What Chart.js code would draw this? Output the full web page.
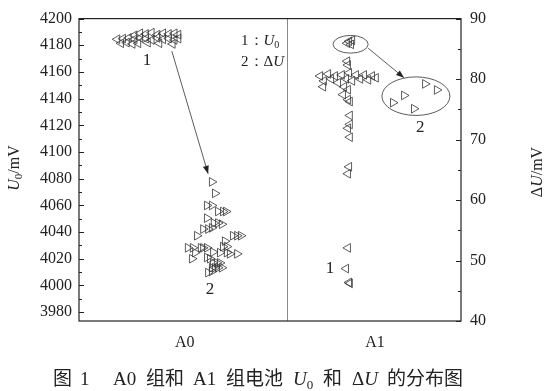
<!DOCTYPE html>
<html><head><meta charset="utf-8">
<script src="https://cdn.jsdelivr.net/npm/chart.js@4.4.1/dist/chart.umd.min.js"></script>
<style>html,body{margin:0;padding:0;background:#fff;}#wrap{width:546px;height:391px;}</style>
</head><body><div id="wrap"><canvas id="c" width="546" height="391"></canvas></div>
<script>
// ---- data ----
const groups = ['A0', 'A1'];
const groupCenters = [27.7, 77.5];
const groupBoundary = 54.5;
const leftTicks = [3980, 4000, 4020, 4040, 4060, 4080, 4100, 4120, 4140, 4160, 4180, 4200];
const rightTicks = [40, 50, 60, 70, 80, 90];

// A0 group, U0 (mV, left axis)
const a0U0X = [14.5, 16, 17.5, 19, 20.5, 22, 23.5, 25, 26,
  10, 11.5, 13, 14.5, 16, 17.5, 19, 20.5, 22, 23.5, 25, 26,
  11, 12.5, 14, 15.5, 18, 21, 24.5];
const a0U0 = [4187.5, 4189, 4188.5, 4189.5, 4188, 4189, 4188.5, 4189, 4188,
  4184.5, 4185, 4185.5, 4184.5, 4185.5, 4185, 4184, 4185.5, 4184.5, 4185, 4184, 4185,
  4181.5, 4182, 4181, 4181.5, 4182, 4181.5, 4181];

// A0 group, dU (mV, right axis)
const a0dUX = [34.8, 35.6, 33.5, 34.8, 36.4, 37.7, 38.5, 33.5, 35.3, 36.4, 37.4, 32.5, 33.8, 34.8,
  30.9, 40.3, 41.4, 42.4, 38.2, 28.5, 29.8, 31.9, 32.5, 33.5, 37.7, 38.7, 30.4, 35.1, 36.9, 38.7,
  39.5, 41.4, 29.6, 33.5, 34.3, 35.1, 36.1, 36.9, 34.8, 35.6, 36.4, 37.4, 33.8, 34.8];
const a0dU = [63.0, 61.1, 59.1, 59.1, 58.1, 58.1, 58.1, 57.0, 56.2, 56.2, 56.0, 55.2, 55.2, 55.4,
  54.1, 54.1, 54.1, 54.1, 53.2, 52.1, 52.1, 52.1, 52.1, 52.1, 52.3, 52.3, 51.3, 51.4, 51.3, 51.3,
  51.1, 51.1, 50.3, 50.5, 50.3, 49.6, 49.6, 49.6, 48.8, 48.8, 48.8, 48.8, 48.0, 48.2];

// A1 group, U0 (mV, left axis)
const a1U0X = [70.2, 70.7, 71.2, 71.5, 70.2, 70.4,
  63.1, 64.1, 65.2, 66.0, 67.0, 67.8, 68.8, 69.9, 70.7, 71.5, 72.5, 73.6, 74.6, 75.7, 76.7, 77.7, 63.9, 69.4,
  70.4, 69.1, 70.4, 70.9, 70.9, 70.9, 70.4, 70.9, 70.7, 70.4, 70.4, 69.9, 70.7, 70.9];
const a1U0 = [4181.5, 4183, 4180.7, 4183.7, 4168.1, 4165.2,
  4157.0, 4153.3, 4158.5, 4154.8, 4157.0, 4151.9, 4157.8, 4154.8, 4159.3, 4153.3, 4157.8, 4154.8, 4157.8, 4154.1, 4157.0, 4155.6, 4148.9, 4148.9,
  4146.7, 4143.0, 4139.3, 4137.8, 4127.4, 4120.7, 4117.8, 4111.1, 4088.9, 4083.7, 4028.1, 4012.6, 4002.2, 4001.5];

// A1 group, dU (mV, right axis)
const a1dUX = [90.6, 93.7, 85.1, 82.2, 87.7];
const a1dU = [79.2, 78.2, 77.3, 76.1, 75.1];

const pts = (xs, ys) => xs.map((x, i) => ({ x: x, y: ys[i] }));

const SERIF = '"Liberation Serif", "Times New Roman", serif';
const CJK = '"Noto Sans CJK SC", sans-serif';
const INK = '#222';

function drawPieces(ctx, pieces, x, y) {
  let cx = x;
  for (const p of pieces) {
    ctx.font = p[0];
    ctx.fillText(p[1], cx, y + (p[2] || 0));
    cx += ctx.measureText(p[1]).width;
  }
  return cx - x;
}
function piecesWidth(ctx, pieces) {
  let w = 0;
  for (const p of pieces) { ctx.font = p[0]; w += ctx.measureText(p[1]).width; }
  return w;
}
function arrow(ctx, x1, y1, x2, y2) {
  ctx.beginPath(); ctx.moveTo(x1, y1); ctx.lineTo(x2, y2); ctx.stroke();
  const a = Math.atan2(y2 - y1, x2 - x1), L = 8, W = 3;
  ctx.beginPath();
  ctx.moveTo(x2, y2);
  ctx.lineTo(x2 - L * Math.cos(a) + W * Math.sin(a), y2 - L * Math.sin(a) - W * Math.cos(a));
  ctx.lineTo(x2 - L * Math.cos(a) - W * Math.sin(a), y2 - L * Math.sin(a) + W * Math.cos(a));
  ctx.closePath(); ctx.fill();
}

const decor = {
  id: 'decor',
  beforeDatasetsDraw(chart) {
    const ctx = chart.ctx, xs = chart.scales.x;
    const a = chart.chartArea;
    ctx.save();
    ctx.strokeStyle = '#8a8a8a'; ctx.lineWidth = 1;
    const dx = Math.round(xs.getPixelForValue(groupBoundary)) + 0.5;
    ctx.beginPath(); ctx.moveTo(dx, a.top); ctx.lineTo(dx, a.bottom); ctx.stroke();
    ctx.restore();
  },
  afterDatasetsDraw(chart) {
    const ctx = chart.ctx, xs = chart.scales.x, ys = chart.scales.y, y1 = chart.scales.y1;
    const a = chart.chartArea;
    const X = v => xs.getPixelForValue(v), Y = v => ys.getPixelForValue(v);
    ctx.save();
    // frame
    ctx.strokeStyle = INK; ctx.lineWidth = 1.2;
    ctx.strokeRect(a.left, a.top, a.right - a.left, a.bottom - a.top);
    // ticks (inward)
    ctx.lineWidth = 1;
    ctx.beginPath();
    leftTicks.forEach(v => {
      const p = Math.round(Y(v)) + 0.5;
      ctx.moveTo(a.left, p); ctx.lineTo(a.left + 5, p);
      const m = v + 10;
      if (m < 4200) { const q = Math.round(Y(m)) + 0.5; ctx.moveTo(a.left, q); ctx.lineTo(a.left + 3, q); }
    });
    rightTicks.forEach(v => {
      const p = Math.round(y1.getPixelForValue(v)) + 0.5;
      ctx.moveTo(a.right, p); ctx.lineTo(a.right - 5, p);
      const m = v + 5;
      if (m < 90) { const q = Math.round(y1.getPixelForValue(m)) + 0.5; ctx.moveTo(a.right, q); ctx.lineTo(a.right - 3, q); }
    });
    ctx.stroke();

    // annotations
    ctx.strokeStyle = '#333'; ctx.fillStyle = '#222'; ctx.lineWidth = 0.8;
    arrow(ctx, X(24.3), Y(4175.6), X(33.8), Y(4083.7));
    arrow(ctx, X(75.7), Y(4177.8), X(85.1), Y(4155.6));
    const ell = (x0, x1, v0, v1) => {
      const cx = (X(x0) + X(x1)) / 2, cy = (Y(v0) + Y(v1)) / 2;
      ctx.beginPath();
      ctx.ellipse(cx, cy, Math.abs(X(x1) - X(x0)) / 2, Math.abs(Y(v1) - Y(v0)) / 2, 0, 0, Math.PI * 2);
      ctx.stroke();
    };
    ell(66.5, 75.7, 4187.4, 4174.1);
    ell(79.3, 97.1, 4156.3, 4127.4);

    ctx.fillStyle = INK;
    ctx.textAlign = 'center'; ctx.textBaseline = 'middle';
    ctx.font = '17px ' + SERIF;
    ctx.fillText('1', X(17.8), Y(4168.9));
    ctx.fillText('2', X(34.3), Y(3997));
    ctx.fillText('1', X(65.7), Y(4012.6));
    ctx.fillText('2', X(89.3), Y(4118.5));

    // legend text
    ctx.textAlign = 'left'; ctx.textBaseline = 'alphabetic';
    const f = '15px ' + SERIF, fi = 'italic 15px ' + SERIF, fs = '10px ' + SERIF;
    drawPieces(ctx, [[f, '1：'], [fi, 'U'], [fs, '0', 3]], 241, 45);
    drawPieces(ctx, [[f, '2：'], [f, 'Δ'], [fi, 'U']], 241, 66);

    // axis titles
    const t = '16px ' + SERIF, ti = 'italic 16px ' + SERIF, ts = '11px ' + SERIF;
    const leftT = [[ti, 'U'], [ts, '0', 3], [t, '/mV']];
    ctx.save(); ctx.translate(19, 168); ctx.rotate(-Math.PI / 2);
    drawPieces(ctx, leftT, -piecesWidth(ctx, leftT) / 2, 0); ctx.restore();
    const rightT = [[t, 'Δ'], [ti, 'U'], [t, '/mV']];
    ctx.save(); ctx.translate(542, 172); ctx.rotate(-Math.PI / 2);
    drawPieces(ctx, rightT, -piecesWidth(ctx, rightT) / 2, 0); ctx.restore();

    // caption, placed piece by piece
    const s = '19px ' + SERIF, si = 'italic 19px ' + SERIF, ss = '13px ' + SERIF, c = '19px ' + CJK;
    const by = 385;
    const put = (font, txt, x, dy) => { ctx.font = font; ctx.fillText(txt, x, by + (dy || 0)); return x + ctx.measureText(txt).width; };
    put(c, '图', 53);
    put(s, '1', 80);
    put(s, 'A0', 113);
    put(c, '组和', 146);
    put(s, 'A1', 193);
    put(c, '组电池', 226);
    let xx = put(si, 'U', 293);
    put(ss, '0', xx, 4);
    put(c, '和', 323);
    xx = put(s, 'Δ', 352);
    put(si, 'U', xx);
    put(c, '的分布图', 387);
    ctx.restore();
  }
};

const tickFont = { family: 'Liberation Serif', size: 16 };
const plain = v => String(v);
new Chart(document.getElementById('c'), {
  type: 'scatter',
  data: {
    datasets: [
      { label: 'U0', data: pts(a0U0X, a0U0).concat(pts(a1U0X, a1U0)), yAxisID: 'y',
        pointStyle: 'triangle', rotation: -90, radius: 5, borderWidth: 0.8,
        borderColor: '#333', backgroundColor: 'rgba(0,0,0,0)' },
      { label: 'dU', data: pts(a0dUX, a0dU).concat(pts(a1dUX, a1dU)), yAxisID: 'y1',
        pointStyle: 'triangle', rotation: 90, radius: 5, borderWidth: 0.8,
        borderColor: '#333', backgroundColor: 'rgba(0,0,0,0)' }
    ]
  },
  options: {
    responsive: false, animation: false, devicePixelRatio: 1,
    layout: { padding: { top: 15, left: 0, right: 0, bottom: 0 } },
    plugins: { legend: { display: false }, tooltip: { enabled: false } },
    scales: {
      x: {
        type: 'linear', position: 'bottom', min: 0, max: 100,
        grid: { display: false, drawTicks: false }, border: { display: false },
        afterBuildTicks: s => { s.ticks = groupCenters.map(v => ({ value: v })); },
        afterFit: s => { s.height = 70; },
        ticks: { autoSkip: false, maxRotation: 0, padding: 12, font: tickFont, color: INK,
          callback: (v, i) => groups[i] }
      },
      y: {
        type: 'linear', position: 'left', min: 3973.3, max: 4200,
        grid: { display: false, drawTicks: false }, border: { display: false },
        afterBuildTicks: s => { s.ticks = leftTicks.map(v => ({ value: v })); },
        afterFit: s => { s.width = 79; },
        ticks: { autoSkip: false, padding: 7, font: tickFont, color: INK, callback: plain }
      },
      y1: {
        type: 'linear', position: 'right', min: 40, max: 90,
        grid: { display: false, drawTicks: false }, border: { display: false },
        afterBuildTicks: s => { s.ticks = rightTicks.map(v => ({ value: v })); },
        afterFit: s => { s.width = 85; },
        ticks: { autoSkip: false, padding: 9, font: tickFont, color: INK, callback: plain }
      }
    }
  },
  plugins: [decor]
});
</script>
</body></html>
